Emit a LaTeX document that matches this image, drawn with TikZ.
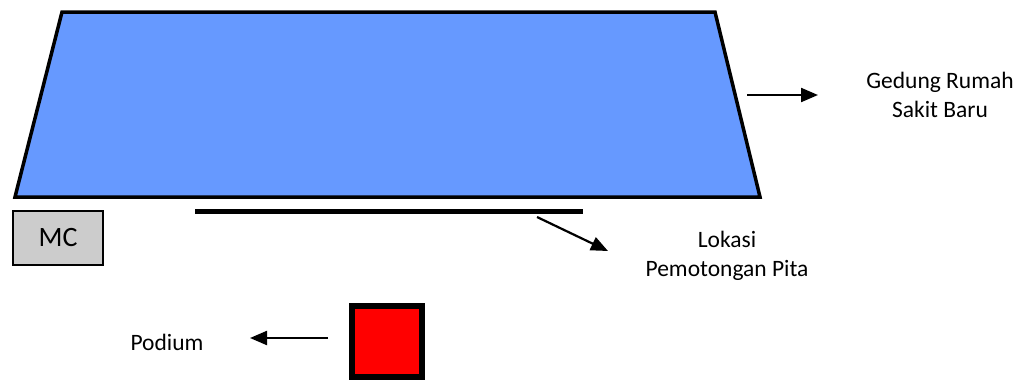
\documentclass[tikz,border=0pt]{standalone}
\usepackage{fontspec}
\setmainfont{Carlito}
\usetikzlibrary{arrows.meta}
\definecolor{bldg}{HTML}{6699FF}
\definecolor{mcgray}{HTML}{CCCCCC}
\begin{document}
\begin{tikzpicture}[x=1pt,y=-1pt,
  lbl/.style={font=\fontsize{23.5}{29}\selectfont, align=center, inner sep=0pt},
  ptr/.style={line width=2.2pt, -{Triangle[length=17pt,width=14pt]}}]
\useasboundingbox (0,0) rectangle (1035,383);
% building
\coordinate (tl) at (62,12);
\coordinate (tr) at (715,12);
\coordinate (br) at (760,197);
\coordinate (bl) at (15,197);
\draw[fill=bldg, line width=3.5pt, line join=miter] (tl) -- (tr) -- (br) -- (bl) -- cycle;
% ribbon
\coordinate (r1) at (195,211.5);
\coordinate (r2) at (583,211.5);
\draw[line width=5pt] (r1) -- (r2);
% MC box
\node[draw, line width=2pt, fill=mcgray, minimum width=90pt, minimum height=54pt, inner sep=0pt,
  font=\fontsize{28}{33}\selectfont] (mc) at (58,237.5) {MC};
% podium square
\node[draw, line width=6pt, fill=red, minimum width=70pt, minimum height=71pt, inner sep=0pt] (pod) at (387,341.5) {};
% labels
\node[lbl] (gedung) at (940,95) {Gedung Rumah\\Sakit Baru};
\node[lbl] (lokasi) at (727,256) {Lokasi\\Pemotongan Pita};
\node[lbl] (podium) at (167,342) {Podium};
% arrows
\coordinate (a1s) at (747,95);
\coordinate (a1e) at (818,95);
\draw[ptr] (a1s) -- (a1e);
\coordinate (a2s) at (537,217);
\coordinate (a2e) at (608,251);
\draw[ptr] (a2s) -- (a2e);
\coordinate (a3s) at (328,338);
\coordinate (a3e) at (250,338);
\draw[ptr] (a3s) -- (a3e);
\end{tikzpicture}
\end{document}
